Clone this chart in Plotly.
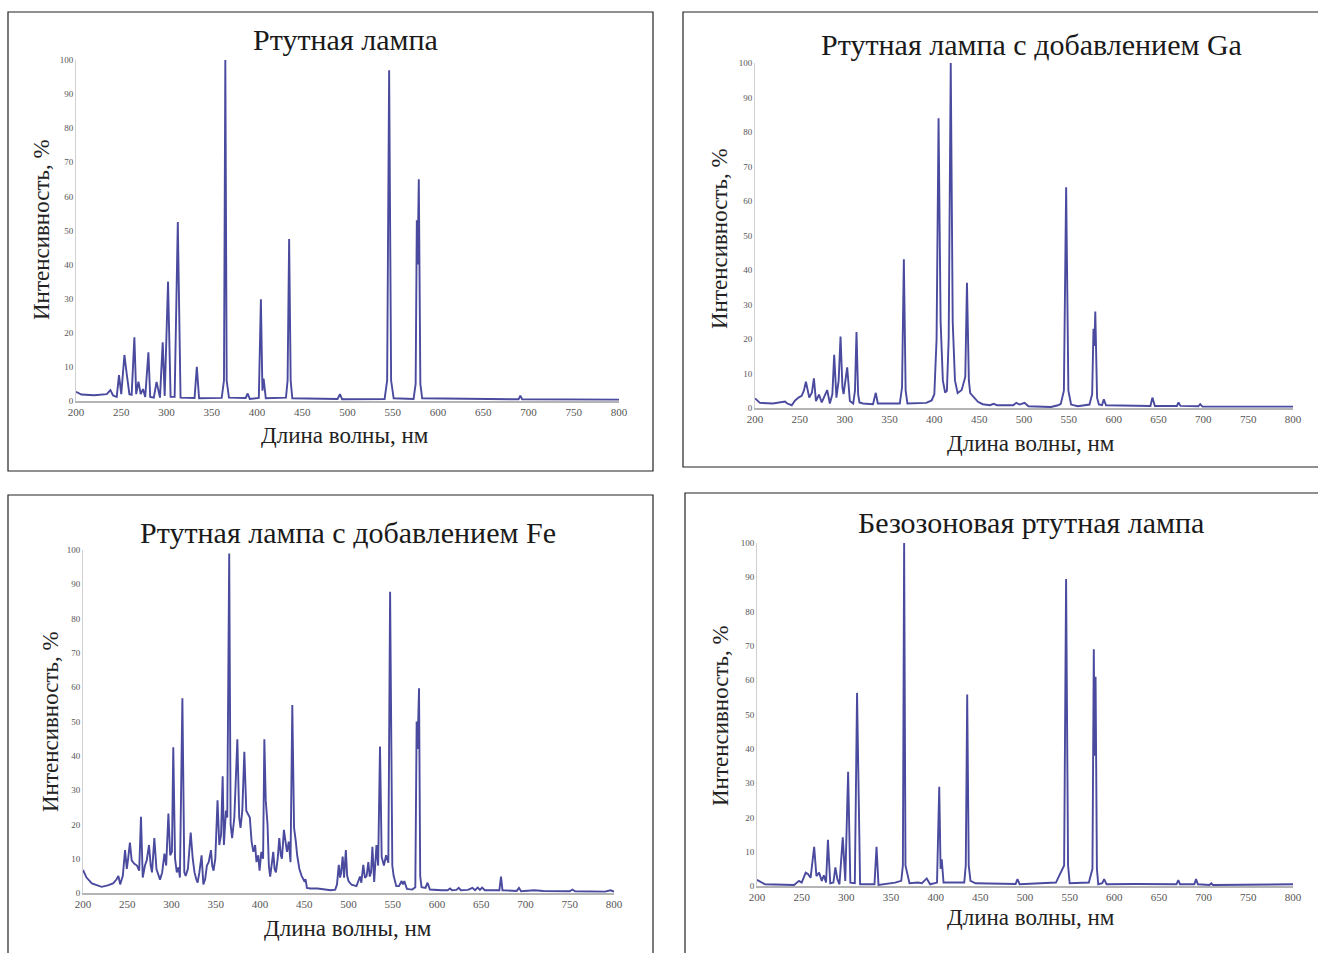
import plotly.graph_objects as go

W, H = 1318, 953

# ---------------- data ----------------
hg_wl = [200, 206, 220, 234, 238, 241, 245, 247.5, 250, 253.5, 256, 259, 261.5, 264.5, 266.5, 269, 271.5, 274, 276.5,
         280, 282, 286, 289, 291, 292.8, 295.8, 298, 301.7, 304.5, 309, 312.5, 315.5, 331, 333.5, 336, 361, 363.5,
         365, 366.5, 369, 387.5, 389.7, 392, 402, 404.3, 406, 407.3, 409.7, 432, 433.8, 435.5, 437.2, 439, 489, 491.7,
         494, 541, 543.8, 546, 548.2, 551, 573, 575.3, 576.6, 577.4, 578.8, 580.5, 582.5, 689, 691, 693, 800]
hg_int = [2.7, 1.9, 1.7, 2.0, 3.2, 1.6, 1.2, 7.6, 2.0, 13.5, 8.0, 2.0, 1.8, 18.7, 2.0, 5.7, 2.0, 3.5, 1.2,
          14.3, 1.2, 1.0, 5.6, 3.0, 1.0, 17.2, 1.5, 35, 1.2, 1.2, 52.5, 1.0, 0.9, 10, 0.8, 0.9, 6,
          100, 6, 1.0, 0.9, 2.2, 0.6, 0.9, 29.8, 3, 6.6, 0.8, 1, 6, 47.5, 6, 0.8, 0.6, 2.0,
          0.5, 0.6, 6, 97, 6, 0.8, 0.6, 5, 53, 40, 65, 5, 0.8, 0.5, 1.6, 0.5, 0.4]

ga_wl = [200, 205.5, 220, 233.5, 236, 241, 244.5, 248.5, 252, 254.5, 256.8, 259, 260.5, 263.5, 265.7, 268, 271.4,
         274.4, 277, 280.5, 283.5, 286.3, 288.3, 290.8, 293.3, 295.4, 297.5, 298.8, 302.8, 305.8, 309.5, 311.5,
         313.2, 315, 316.5, 320.5, 331.6, 334.7, 337, 361.5, 364, 366, 368, 370, 391, 397, 400, 402.5, 404.7, 407,
         409.5, 412, 414, 416, 418.3, 420.5, 423, 426, 430.5, 434.5, 436.4, 438.5, 440, 443, 448.6, 454, 462, 466,
         470, 488, 491.4, 495, 500.6, 505, 520, 530, 538, 541, 544.5, 547, 549.5, 552.5, 560, 573, 576, 577.5,
         578.5, 579.5, 581.5, 583.5, 587, 589, 591.5, 641, 643.2, 646, 670.5, 672.3, 674.5, 694.5, 696.5, 699, 800]
ga_int = [2.8, 1.5, 1.3, 1.9, 1.3, 0.8, 2.1, 3.0, 3.5, 5, 7.6, 5, 3.0, 4.5, 8.6, 2.0, 3.9,
          1.6, 3.0, 5.2, 1.3, 4, 15.4, 3.0, 8, 20.7, 6, 4.0, 11.8, 2.0, 1.3, 5,
          22, 4, 1.6, 1.3, 1.1, 4.4, 1.3, 1.3, 6, 43.1, 5, 1.3, 1.5, 2.2, 4, 20, 84, 25,
          8, 4.5, 5, 20, 100, 25, 8, 4.3, 5.2, 9, 36.3, 8, 4.3, 3.5, 1.8, 1.1, 0.8, 1.2,
          0.8, 0.8, 1.5, 1.0, 1.5, 0.5, 0.3, 0.3, 0.8, 1.2, 5, 64, 5, 1.0, 0.5, 1, 4, 23,
          18, 28, 3, 1.0, 0.8, 2.5, 0.8, 0.6, 3.0, 0.6, 0.6, 1.6, 0.6, 0.5, 1.1, 0.4, 0.4]

fe_wl = [200, 204, 210, 216, 221, 228, 234, 238, 240, 242, 245, 247.5, 249.5, 251, 253, 255, 258, 261, 263.5, 265.5,
         267.5, 270, 272, 274.6, 276.5, 278, 280.6, 283, 285, 287, 289.5, 292, 294, 296.5, 298.5, 300.5, 302, 304,
         306, 308, 309.5, 312.3, 314.5, 316, 318.5, 321.7, 324, 326, 328, 329.5, 331.5, 334, 336, 338, 340, 342,
         344.6, 346, 347.5, 349.5, 352, 354, 356, 357.8, 359.2, 361.5, 363, 365.2, 366.8, 368.5, 371, 374.4, 376.5,
         378, 380, 382.3, 384.5, 386.5, 388.5, 390.5, 392.5, 394.5, 396, 398, 399.5, 401.5, 403.5, 404.9, 406.5,
         408.5, 410, 411.5, 413.5, 415, 416.5, 418, 420, 421.8, 423.5, 424.8, 427, 429, 430.5, 432.5, 434.5, 436.5,
         438.5, 440.5, 442, 444.5, 447, 450, 451.5, 453, 457, 465, 472, 480, 485, 487, 489, 490.5, 491.5, 493.4,
         495, 497, 498.5, 500, 503.4, 509, 513, 514.5, 516.7, 518.6, 520.5, 522.4, 524, 525.5, 527, 529, 531.6,
         533.5, 535.6, 537.5, 540, 542.5, 545, 547, 549.5, 551, 554, 557, 560, 561.5, 563, 566, 572, 575.5, 577,
         578, 579.7, 581, 582.5, 587, 589.3, 592, 605, 612, 614.7, 617, 622, 624.5, 627, 635, 640, 643, 646,
         648.5, 651, 654, 660, 670.5, 672.3, 674, 690, 692.6, 695, 710, 720, 750, 753, 756, 790, 796, 800]
fe_int = [6.7, 4.5, 2.8, 2.2, 1.8, 2.2, 2.8, 4.0, 5.0, 2.5, 5, 12.5, 7, 10, 14.7, 9.5, 8.5, 8, 6.5, 22.2,
          4.5, 8, 9.5, 14, 8, 6, 16, 7, 5.5, 3.9, 6, 11.5, 8, 23.2, 11, 12, 42.5, 10,
          6, 7.5, 4.5, 56.8, 6, 5, 7, 17.6, 10, 6, 4, 3, 6, 11, 2.5, 4, 8, 9,
          12.5, 8, 6.5, 10, 27, 14, 17, 34, 14, 24, 22, 99, 20, 16, 22, 44.8, 22,
          19, 24, 41.2, 24, 23, 22, 15, 12, 14, 9, 11, 6.5, 12, 10, 44.8, 27,
          20, 8, 4.8, 9, 12, 7, 6, 10, 16, 11, 10, 18.4, 14, 12, 15, 9, 54.8,
          19, 15, 11, 7, 5, 3.5, 4, 1.5, 1.3, 1.3, 1.0, 0.8, 1, 2.5, 8.2, 4.5, 5.6, 10.6,
          4.5, 12.5, 5, 3.5, 2.4, 2.0, 4.8, 3, 8.2, 4.4, 5, 9, 4.8, 6, 13.5, 3.2, 14,
          8, 42.7, 10.5, 8, 11, 8.8, 87.8, 8, 5, 2, 2, 3.5, 2.5, 3.5, 1.2, 1.0, 1.7, 50,
          42, 59.7, 5, 1.7, 1.5, 3.0, 1.0, 0.8, 0.8, 1.3, 0.8, 0.9, 1.5, 0.8, 0.9, 1.5, 0.8, 1.6,
          0.9, 1.6, 0.8, 0.8, 0.8, 4.8, 0.8, 0.6, 1.5, 0.5, 0.8, 0.6, 0.5, 1.0, 0.5, 0.4, 0.8, 0.4]

oz_wl = [200, 205, 209, 241.5, 247, 250, 254.5, 257, 260, 264, 266.5, 269.5, 272.5, 274.8, 277.3, 279.4, 282, 285.5,
         287.7, 290, 292.3, 296, 298.8, 302, 304.5, 309.5, 312, 315.4, 331.5, 333.8, 336, 354.6, 361.5, 363.3,
         364.7, 366.2, 370.7, 380, 384.6, 390, 393.8, 401.5, 404, 405.5, 406.8, 408.8, 432, 433.7, 435.3, 437, 439,
         444.6, 489.5, 491.6, 494, 534.6, 543.8, 546, 548.2, 550, 571.5, 575.5, 577, 578, 579, 580.5, 582, 586.5,
         588.6, 591.3, 624.5, 669.5, 671.6, 673.5, 689.5, 691.5, 693.5, 706.5, 708.5, 710.5, 800]
oz_int = [1.8, 1.0, 0.5, 0.3, 1.5, 1.0, 3.9, 3.5, 2.4, 11.4, 2.9, 3.9, 1.5, 3.1, 1.0, 13.5, 0.8, 1.0,
          5.4, 2.0, 0.5, 14.2, 1.5, 33.3, 1.0, 0.8, 56.3, 0.5, 0.5, 11.4, 0.3, 1.0, 1.5, 6,
          100, 6, 0.8, 1.0, 0.8, 2.2, 0.5, 1.0, 28.9, 5, 7.8, 1.0, 1, 6, 55.8, 6, 1.5,
          0.8, 0.6, 2.0, 0.5, 1.0, 6, 89.5, 6, 0.8, 1.0, 5, 69, 38, 61, 5, 0.5, 0.8,
          2.0, 0.5, 0.6, 0.5, 1.7, 0.5, 0.5, 2.0, 0.5, 0.3, 0.8, 0.3, 0.5]

titles = ["Ртутная лампа", "Ртутная лампа с добавлением Ga",
          "Ртутная лампа с добавлением Fe", "Безозоновая ртутная лампа"]
x_title = "Длина волны, нм"
y_title = "Интенсивность, %"
x_ticks = [200, 250, 300, 350, 400, 450, 500, 550, 600, 650, 700, 750, 800]
y_ticks = [0, 10, 20, 30, 40, 50, 60, 70, 80, 90, 100]

series = [(hg_wl, hg_int), (ga_wl, ga_int), (fe_wl, fe_int), (oz_wl, oz_int)]

# ---------------- layout geometry (window pixels) ----------------
plots = [(76, 619, 60, 401), (755, 1293, 63, 408), (83, 614, 550, 893), (757, 1293, 543, 886)]
frames = [(8, 653, 12, 471), (683, 1340, 12, 467), (8, 653, 495, 980), (685, 1340, 493, 980)]
title_pos = [(345, 40), (1031, 44), (348, 532), (1031, 522)]
xtitle_pos = [(345, 435), (1031, 443), (348, 928), (1031, 917)]
ytitle_pos = [(41, 230), (719, 238), (50, 722), (720, 715)]


def px(x):
    return x / W


def py(y):
    return 1 - y / H


SERIF = "Liberation Serif, Times New Roman, serif"
LINE = "#4a4a9e"

fig = go.Figure()
layout = dict(width=W, height=H, margin=dict(l=0, r=0, t=0, b=0, pad=0, autoexpand=False),
              showlegend=False, paper_bgcolor="white", plot_bgcolor="white", shapes=[], annotations=[])

for i, ((wl, val), (xl, xr, yt, yb)) in enumerate(zip(series, plots)):
    n = "" if i == 0 else str(i + 1)
    fig.add_trace(go.Scatter(x=wl, y=val, mode="lines", xaxis="x" + n, yaxis="y" + n,
                             line=dict(color=LINE, width=1.9), hoverinfo="skip"))
    layout["xaxis" + n] = dict(domain=[px(xl), px(xr)], anchor="y" + n, range=[200, 800], automargin=False,
                               tickvals=x_ticks, ticktext=[str(t) for t in x_ticks],
                               showgrid=False, zeroline=False, showline=True, linecolor="#b4b4b4",
                               linewidth=1.5, ticks="", tickfont=dict(family=SERIF, size=11, color="#555"))
    layout["yaxis" + n] = dict(domain=[py(yb), py(yt)], anchor="x" + n, range=[0, 100], automargin=False,
                               tickvals=y_ticks, showgrid=False, zeroline=False, showline=True,
                               linecolor="#d0d0d0", linewidth=1, ticks="",
                               tickfont=dict(family=SERIF, size=9, color="#555"))
    fx0, fx1, fy0, fy1 = frames[i]
    layout["shapes"].append(dict(type="rect", xref="paper", yref="paper", x0=px(fx0), x1=px(fx1),
                                 y0=py(fy0), y1=py(fy1), line=dict(color="#222", width=1.2)))
    tx, ty = title_pos[i]
    layout["annotations"].append(dict(text=titles[i], xref="paper", yref="paper", x=px(tx), y=py(ty),
                                      showarrow=False, xanchor="center", yanchor="middle",
                                      font=dict(family=SERIF, size=30, color="#1a1a1a")))
    ax, ay = xtitle_pos[i]
    layout["annotations"].append(dict(text=x_title, xref="paper", yref="paper", x=px(ax), y=py(ay),
                                      showarrow=False, xanchor="center", yanchor="middle",
                                      font=dict(family=SERIF, size=23, color="#222")))
    yx, yy = ytitle_pos[i]
    layout["annotations"].append(dict(text=y_title, xref="paper", yref="paper", x=px(yx), y=py(yy),
                                      showarrow=False, xanchor="center", yanchor="middle", textangle=-90,
                                      font=dict(family=SERIF, size=23, color="#222")))

fig.update_layout(**layout)
fig.write_html("out.html", config={"displayModeBar": False},
               post_script="document.body.style.margin='0';document.body.style.overflow='hidden';")
